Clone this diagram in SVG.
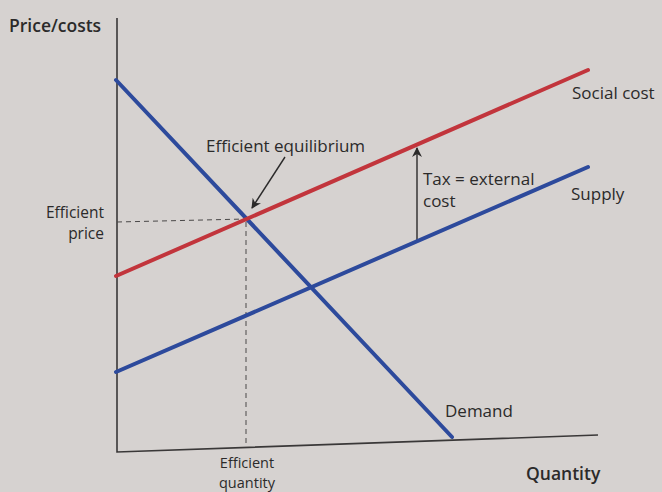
<svg xmlns="http://www.w3.org/2000/svg" width="662" height="492" viewBox="0 0 662 492">
<defs>
<style>
text{font-family:"Open Sans","Noto Sans","Liberation Sans",sans-serif;fill:#2b2a2a;font-size:17px}
.b{font-weight:600;font-size:17.5px}
.s{font-size:15.5px}
.q{font-size:14.5px}
.axis{stroke:#3a3838;stroke-width:1.6;fill:none}
.dash{stroke:#4a4848;stroke-width:1;stroke-dasharray:5,4;fill:none}
.blue{stroke:#2d4a9c;stroke-width:4;fill:none;stroke-linecap:round}
.red{stroke:#c2353c;stroke-width:4;fill:none;stroke-linecap:round}
.arr{stroke:#2b2a2a;stroke-width:1.4;fill:none}
</style>
<marker id="ah" viewBox="0 0 10 10" refX="9" refY="5" markerWidth="10" markerHeight="10" orient="auto" markerUnits="userSpaceOnUse">
<path d="M0,0 L10,5 L0,10 L3,5 Z" fill="#2b2a2a"/>
</marker>
</defs>
<rect width="662" height="492" fill="#d6d2d0"/>
<g id="axes">
<path class="axis" d="M117,18 L117,452 L598,435"/>
<text id="ylabel" class="b" x="9" y="32">Price/costs</text>
<text id="xlabel" class="b" x="526" y="480">Quantity</text>
</g>
<g id="connectors">
<path class="dash" d="M117,222 L246,219"/>
<path class="dash" d="M246,222 L246,447"/>
<path class="arr" d="M285,157 L252,208" marker-end="url(#ah)"/>
<path class="arr" d="M417,240 L417,148" marker-end="url(#ah)"/>
</g>
<g id="demand">
<path class="blue" d="M116,80 L452,437"/>
<text x="445" y="417">Demand</text>
</g>
<g id="supply">
<path class="blue" d="M116,372 L588,167"/>
<text x="571" y="200">Supply</text>
</g>
<g id="social-cost">
<path class="red" d="M116,276 L588,70"/>
<text x="572" y="99">Social cost</text>
</g>
<g id="efficient-equilibrium">
<text x="206" y="152">Efficient equilibrium</text>
</g>
<g id="tax">
<text x="423" y="185">Tax = external</text>
<text x="423" y="207">cost</text>
</g>
<g id="efficient-price">
<text class="s" x="104" y="218" text-anchor="end">Efficient</text>
<text class="s" x="104" y="239" text-anchor="end">price</text>
</g>
<g id="efficient-quantity">
<text class="q" x="247" y="468" text-anchor="middle">Efficient</text>
<text class="q" x="247" y="488" text-anchor="middle">quantity</text>
</g>
</svg>
